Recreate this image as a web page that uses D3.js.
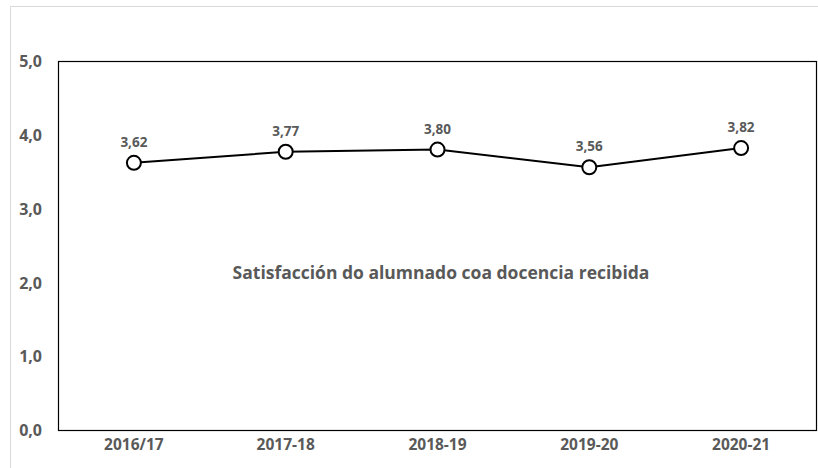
<!DOCTYPE html>
<html>
<head>
<meta charset="utf-8">
<script src="https://cdn.jsdelivr.net/npm/d3@7"></script>
<style>
  body { margin: 0; background: #fff; }
  svg text { font-family: "Open Sans", "Liberation Sans", sans-serif; font-weight: bold; fill: #595959; }
</style>
</head>
<body>
<div id="chart"></div>
<script>
// Data
const cursos = ['2016/17', '2017-18', '2018-19', '2019-20', '2020-21'];
const satisfaccion = [3.62, 3.77, 3.80, 3.56, 3.82];
const yTicks = [0, 1, 2, 3, 4, 5];
const titulo = 'Satisfacción do alumnado coa docencia recibida';

const width = 818, height = 468;
const margin = { top: 61, right: 1, bottom: 38, left: 58 };

const svg = d3.select('#chart').append('svg')
    .attr('width', width)
    .attr('height', height);

// outer chart frame
svg.append('path')
    .attr('d', `M10.5,${height} V6.5 H${width}`)
    .attr('fill', 'none')
    .attr('stroke', '#d9d9d9')
    .attr('stroke-width', 1);

const x = d3.scaleBand()
    .domain(cursos)
    .range([margin.left, width - margin.right]);

const y = d3.scaleLinear()
    .domain([0, 5])
    .range([height - margin.bottom, margin.top]);

const fmt = v => d3.format('.1f')(v).replace('.', ',');
const fmt2 = v => d3.format('.2f')(v).replace('.', ',');

// plot area box
svg.append('rect')
    .attr('x', margin.left + 0.5)
    .attr('y', margin.top + 0.5)
    .attr('width', width - margin.right - margin.left - 1)
    .attr('height', y(0) - margin.top)
    .attr('fill', 'none')
    .attr('stroke', '#000')
    .attr('stroke-width', 1.2);

// y axis labels
const yAxis = d3.axisLeft(y).tickValues(yTicks).tickFormat(fmt).tickSize(0).tickPadding(16);
const gy = svg.append('g')
    .attr('transform', `translate(${margin.left},0)`)
    .call(yAxis);
gy.select('.domain').remove();
gy.selectAll('text').style('font-size', '16px').attr('dy', '0.35em');

// x axis labels
const xAxis = d3.axisBottom(x).tickSize(0).tickPadding(9);
const gx = svg.append('g')
    .attr('transform', `translate(0,${y(0)})`)
    .call(xAxis);
gx.select('.domain').remove();
gx.selectAll('text').style('font-size', '15.5px');

// line
const line = d3.line()
    .x((d, i) => x(cursos[i]) + x.bandwidth() / 2)
    .y(d => y(d));

svg.append('path')
    .datum(satisfaccion)
    .attr('d', line)
    .attr('fill', 'none')
    .attr('stroke', '#000')
    .attr('stroke-width', 2);

// markers
svg.selectAll('.pt')
    .data(satisfaccion)
    .enter()
    .append('circle')
    .attr('class', 'pt')
    .attr('cx', (d, i) => x(cursos[i]) + x.bandwidth() / 2)
    .attr('cy', d => y(d))
    .attr('r', 7)
    .attr('fill', '#fff')
    .attr('stroke', '#000')
    .attr('stroke-width', 2);

// data labels
svg.selectAll('.lbl')
    .data(satisfaccion)
    .enter()
    .append('text')
    .attr('class', 'lbl')
    .attr('x', (d, i) => x(cursos[i]) + x.bandwidth() / 2)
    .attr('y', d => y(d) - 16)
    .attr('text-anchor', 'middle')
    .style('font-size', '13.5px')
    .text(fmt2);

// title inside plot
svg.append('text')
    .attr('x', 441)
    .attr('y', 279)
    .attr('text-anchor', 'middle')
    .style('font-size', '17.5px')
    .text(titulo);
</script>
</body>
</html>
